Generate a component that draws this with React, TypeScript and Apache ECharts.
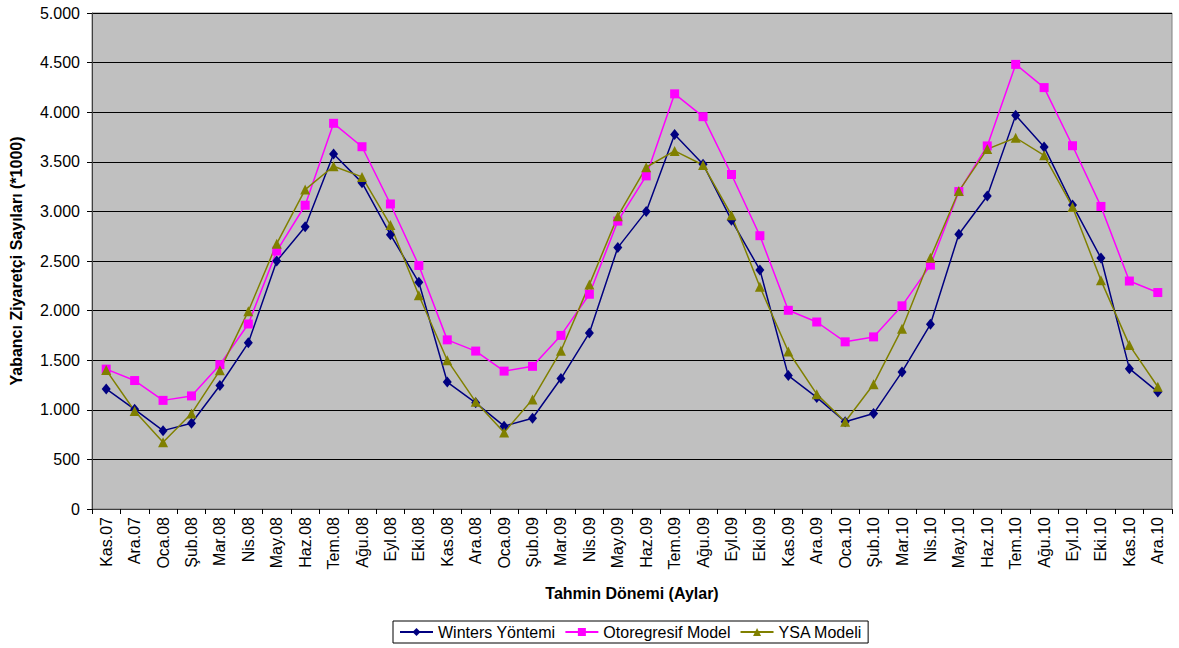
import React, { useEffect, useRef } from "react";
import * as echarts from "echarts";

const categories = [
  "Kas.07", "Ara.07", "Oca.08", "Şub.08", "Mar.08", "Nis.08", "May.08", "Haz.08", "Tem.08", "Ağu.08",
  "Eyl.08", "Eki.08", "Kas.08", "Ara.08", "Oca.09", "Şub.09", "Mar.09", "Nis.09", "May.09", "Haz.09",
  "Tem.09", "Ağu.09", "Eyl.09", "Eki.09", "Kas.09", "Ara.09", "Oca.10", "Şub.10", "Mar.10", "Nis.10",
  "May.10", "Haz.10", "Tem.10", "Ağu.10", "Eyl.10", "Eki.10", "Kas.10", "Ara.10",
];

const winters = [
  1210, 1005, 790, 865, 1245, 1675, 2500, 2845, 3578, 3290,
  2765, 2285, 1280, 1070, 835, 915, 1315, 1775, 2635, 3000,
  3775, 3475, 2912, 2410, 1345, 1125, 880, 962, 1382, 1862,
  2770, 3155, 3968, 3650, 3065, 2530, 1415, 1180,
];

const otoregresif = [
  1410, 1295, 1095, 1140, 1455, 1865, 2600, 3062, 3888, 3652,
  3075, 2455, 1705, 1592, 1390, 1438, 1750, 2165, 2902, 3358,
  4185, 3955, 3372, 2755, 2003, 1885, 1685, 1735, 2048, 2458,
  3200, 3660, 4482, 4248, 3662, 3050, 2298, 2182,
];

const ysa = [
  1400, 988, 672, 962, 1398, 1994, 2675, 3220, 3455, 3348,
  2862, 2155, 1500, 1080, 772, 1105, 1595, 2262, 2952, 3445,
  3610, 3468, 2962, 2240, 1588, 1158, 880, 1258, 1818, 2532,
  3205, 3628, 3742, 3565, 3045, 2305, 1652, 1232,
];

const yTicks = [0, 500, 1000, 1500, 2000, 2500, 3000, 3500, 4000, 4500, 5000];

const FONT = "Liberation Sans, Arial, sans-serif";

function fmt(v: number): string {
  return String(v).replace(/\B(?=(\d{3})+(?!\d))/g, ".");
}

export default function App() {
  const ref = useRef<HTMLDivElement>(null);

  useEffect(() => {
    if (!ref.current) return;
    const chart = echarts.init(ref.current, undefined, { renderer: "svg" });
    chart.setOption({
      animation: false,
      backgroundColor: "#ffffff",
      textStyle: { fontFamily: FONT },
      grid: {
        left: 91,
        top: 13,
        right: 7,
        bottom: 139,
        show: true,
        backgroundColor: "#C0C0C0",
        borderColor: "#808080",
        borderWidth: 1,
      },
      legend: {
        left: 393,
        top: 621,
        orient: "horizontal",
        borderColor: "#000000",
        borderWidth: 1,
        padding: [3, 6, 3, 6],
        itemGap: 9,
        itemWidth: 33,
        itemHeight: 10,
        textStyle: { fontSize: 16, color: "#000", fontFamily: FONT },
        data: ["Winters Yöntemi", "Otoregresif Model", "YSA Modeli"],
      },
      xAxis: {
        type: "category",
        data: categories,
        boundaryGap: true,
        name: "Tahmin Dönemi (Aylar)",
        nameLocation: "middle",
        nameGap: 76,
        nameTextStyle: { fontSize: 16, fontWeight: "bold", color: "#000", fontFamily: FONT },
        axisLine: { show: true, lineStyle: { color: "#404040", width: 1 } },
        axisTick: { show: true, alignWithLabel: false, length: 5, lineStyle: { color: "#000" } },
        axisLabel: {
          rotate: 90,
          interval: 0,
          margin: 8,
          fontSize: 16,
          color: "#000",
          fontFamily: FONT,
        },
        splitLine: { show: false },
      },
      yAxis: {
        type: "value",
        min: yTicks[0],
        max: yTicks[yTicks.length - 1],
        interval: 500,
        name: "Yabancı Ziyaretçi Sayıları (*1000)",
        nameLocation: "middle",
        nameRotate: 90,
        nameGap: 68,
        nameTextStyle: { fontSize: 16, fontWeight: "bold", color: "#000", fontFamily: FONT },
        axisLine: { show: true, lineStyle: { color: "#404040", width: 1 } },
        axisTick: { show: true, length: 5, lineStyle: { color: "#000" } },
        axisLabel: {
          margin: 12,
          fontSize: 16,
          color: "#000",
          fontFamily: FONT,
          formatter: (v: number) => fmt(v),
        },
        splitLine: { show: true, lineStyle: { color: "#000000", width: 1 } },
      },
      series: [
        {
          name: "Winters Yöntemi",
          type: "line",
          data: winters,
          symbol: "diamond",
          symbolSize: [9, 11],
          itemStyle: { color: "#000080" },
          lineStyle: { color: "#000080", width: 1.5 },
        },
        {
          name: "Otoregresif Model",
          type: "line",
          data: otoregresif,
          symbol: "rect",
          symbolSize: 9,
          itemStyle: { color: "#FF00FF" },
          lineStyle: { color: "#FF00FF", width: 1.5 },
        },
        {
          name: "YSA Modeli",
          type: "line",
          data: ysa,
          symbol: "triangle",
          symbolSize: 10,
          itemStyle: { color: "#808000" },
          lineStyle: { color: "#808000", width: 1.5 },
        },
      ],
    });
    return () => chart.dispose();
  }, []);

  return (
    <div
      ref={ref}
      style={{ position: "fixed", left: 0, top: 0, width: 1179, height: 648, background: "#fff" }}
    />
  );
}
